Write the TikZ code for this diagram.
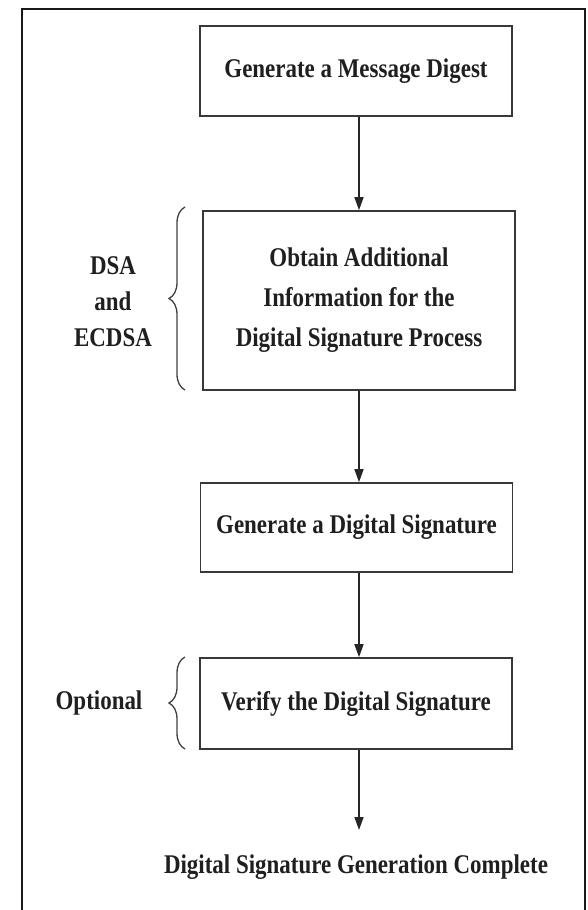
\documentclass[tikz,border=0pt]{standalone}
\usepackage{fontspec}
\setmainfont{Liberation Serif}[FakeStretch=0.85]
\usetikzlibrary{arrows.meta,decorations.pathreplacing}
\begin{document}
\begin{tikzpicture}[x=1pt,y=-1pt,
  stepbox/.style={draw=black!78, line width=1.6pt, minimum width=312pt, align=center,
    font=\fontsize{27}{40}\selectfont\bfseries, text=black!88, inner sep=0pt},
  flow/.style={draw=black!85, line width=1.5pt, -{Triangle[length=13pt,width=9pt]}},
  lbl/.style={font=\fontsize{27}{36}\selectfont\bfseries, align=center, text=black!88},
  brc/.style={draw=black!75, line width=1.3pt, decorate, decoration={brace, amplitude=16pt}}]
\useasboundingbox (0,0) rectangle (588,910);
% outer frame
\draw[line width=2.6pt, black!90] (22,930) -- (22,9) -- (585,9) -- (585,930);
% boxes
\node[stepbox, minimum height=90pt]  (b1) at (356,71)    {Generate a Message Digest};
\node[stepbox, minimum height=179pt] (b2) at (359,300.5) {Obtain Additional\\Information for the\\Digital Signature Process};
\node[stepbox, minimum height=89pt]  (b3) at (356.5,527.5) {Generate a Digital Signature};
\node[stepbox, minimum height=91pt]  (b4) at (356,703.5) {Verify the Digital Signature};
\node[lbl] (done) at (356,867) {Digital Signature Generation Complete};
\coordinate (ax) at (359,0);
\coordinate (end) at (359,830);
% connectors
\draw[flow] (b1.south -| ax) -- (b2.north -| ax);
\draw[flow] (b2.south -| ax) -- (b3.north -| ax);
\draw[flow] (b3.south -| ax) -- (b4.north -| ax);
\draw[flow] (b4.south -| ax) -- (end);
% braces and side labels
\coordinate (br1a) at (185,390);
\coordinate (br1b) at (185,207);
\coordinate (br2a) at (185,749);
\coordinate (br2b) at (185,657);
\draw[brc] (br1a) -- (br1b);
\draw[brc] (br2a) -- (br2b);
\node[lbl] (dsa) at (113,302) {DSA\\and\\ECDSA};
\node[lbl] (opt) at (99,703) {Optional};
\end{tikzpicture}
\end{document}
